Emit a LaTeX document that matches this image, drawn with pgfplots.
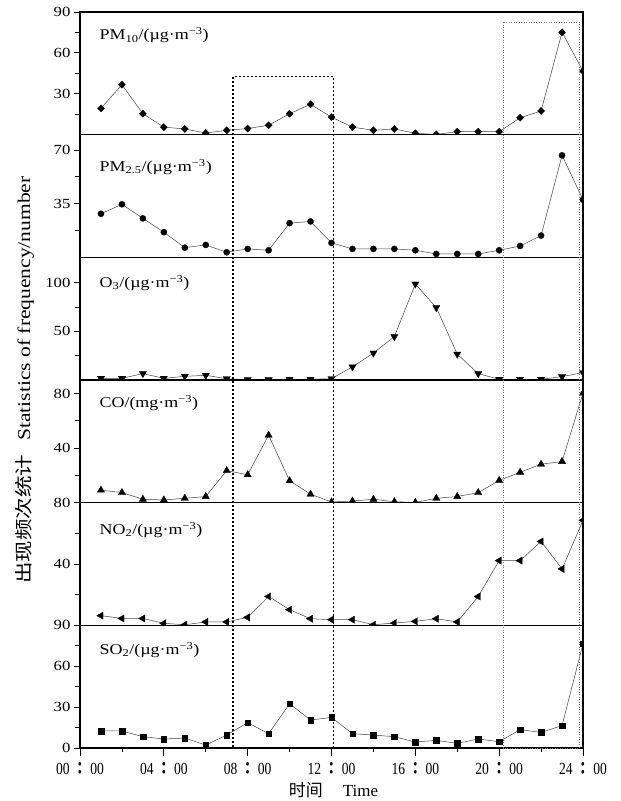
\documentclass[border=0pt]{standalone}
\usepackage{fontspec}
\setmainfont{Liberation Serif}
\newfontfamily\wide{Liberation Serif}[FakeStretch=1.2]
\newfontfamily\narrow{Liberation Serif}[FakeStretch=0.8]
\newfontfamily\cjkwide{Noto Sans CJK SC}[FakeStretch=1.2]
\newfontfamily\cjkcolon{Noto Sans CJK JP}[FakeStretch=0.8]
\newfontfamily\cjk{Noto Sans CJK SC}
\usepackage{pgfplots}
\pgfplotsset{compat=1.18}
\usepgfplotslibrary{groupplots}
\usetikzlibrary{calc}

% hour tick label like 04：00
\newcommand{\hh}[1]{{\narrow #1}\hspace{3.5bp}{\cjkcolon\bfseries ：}\hspace{3.5bp}{\narrow 00}}
\newcommand{\lab}[1]{\node[anchor=base west, font=\wide\fontsize{15}{17}\selectfont] at #1}

\tikzset{mk/.style={fill=black, draw=black, line width=0.3bp, solid}}
\pgfplotsset{ser/.style={black!75, line width=0.5bp}}

\begin{document}
\begin{tikzpicture}
\begin{groupplot}[
  group style={group size=1 by 6, vertical sep=0pt},
  width=503bp, height=122.67bp, scale only axis,
  xmin=0, xmax=24, ymin=0,
  xtick=\empty,
  clip marker paths=true,
  axis line style={line width=1.1bp},
  tick style={black, line width=0.8bp},
  ytick pos=left, tick align=outside,
  major tick length=6bp, minor tick length=5bp,
  /pgf/number format/assume math mode=true,
  yticklabel style={font=\wide\fontsize{14}{16}\selectfont},
]
% PM10
\nextgroupplot[ymax=90, ytick={30,60,90}, minor ytick={15,45,75}]
\addplot[ser, mark=diamond*, mark size=3.6bp, mark options={mk, xscale=1.3}] coordinates {
 (1,19.3)(2,36.7)(3,15.4)(4,5.5)(5,4.2)(6,1.2)(7,3.2)(8,4.5)(9,6.9)(10,15.4)(11,22.3)(12,12.9)
 (13,5.5)(14,3.2)(15,4.2)(16,1.0)(17,0.2)(18,2.2)(19,2.2)(20,2.2)(21,12.4)(22,17.4)(23,75.1)(24,46.6)};
\lab{(rel axis cs:0.032,0.772)} {PM\textsubscript{10}/(µg·m\textsuperscript{−3})};
\coordinate (tr) at (rel axis cs:1,1);
\coordinate (r1a) at (axis cs:7.31,42.6);
\coordinate (r2a) at (axis cs:20.2,82.6);
% PM2.5
\nextgroupplot[ymax=80, ytick={35,70}, minor ytick={17.5,52.5}]
\addplot[ser, mark=*, mark size=3.1bp, mark options={mk}] coordinates {
 (1,28.4)(2,34.6)(3,25.4)(4,16.4)(5,6.3)(6,8.1)(7,3.3)(8,5.5)(9,4.6)(10,22.3)(11,23.4)(12,9.4)
 (13,5.5)(14,5.5)(15,5.5)(16,4.6)(17,2.2)(18,2.2)(19,2.2)(20,4.6)(21,7.4)(22,14.2)(23,66.5)(24,37.6)};
\lab{(rel axis cs:0.032,0.698)} {PM\textsubscript{2.5}/(µg·m\textsuperscript{−3})};
% O3
\nextgroupplot[ymax=126, ytick={50,100}, minor ytick={25,75}]
\addplot[ser, mark=triangle*, mark size=4.2bp, mark options={mk, rotate=180}] coordinates {
 (1,1.7)(2,1.7)(3,6.6)(4,1.7)(5,3.8)(6,4.8)(7,1.4)(8,0.3)(9,0.3)(10,0.7)(11,0.7)(12,1.4)
 (13,13.5)(14,27.7)(15,44.6)(16,98.6)(17,74.4)(18,26.6)(19,6.6)(20,0.7)(21,0.7)(22,0.7)(23,3.5)(24,7.6)};
\lab{(rel axis cs:0.032,0.755)} {O\textsubscript{3}/(µg·m\textsuperscript{−3})};
% CO
\nextgroupplot[ymax=90, ytick={40,80}, minor ytick={20,60}]
\addplot[ser, mark=triangle*, mark size=4.2bp, mark options={mk}] coordinates {
 (1,9.2)(2,7.4)(3,2.5)(4,2.0)(5,3.2)(6,4.5)(7,23.5)(8,20.5)(9,49.5)(10,16.1)(11,6.2)(12,0.5)
 (13,1.2)(14,2.5)(15,0.7)(16,0.2)(17,3.2)(18,4.5)(19,7.4)(20,16.3)(21,22.3)(22,28.2)(23,30.2)(24,80.4)};
\lab{(rel axis cs:0.032,0.772)} {CO/(mg·m\textsuperscript{−3})};
% NO2
\nextgroupplot[ymax=80, ytick={40,80}, minor ytick={20,60}]
\addplot[ser, mark=triangle*, mark size=4.2bp, mark options={mk, rotate=90}] coordinates {
 (1,6.3)(2,4.5)(3,4.5)(4,1.3)(5,0.4)(6,2.2)(7,2.2)(8,5.2)(9,18.8)(10,10.2)(11,4.3)(12,3.7)
 (13,3.7)(14,0.4)(15,1.5)(16,2.6)(17,4.3)(18,2.2)(19,18.8)(20,42.2)(21,42.2)(22,54.7)(23,36.8)(24,68.5)};
\lab{(rel axis cs:0.032,0.739)} {NO\textsubscript{2}/(µg·m\textsuperscript{−3})};
% SO2
\nextgroupplot[ymax=90, ytick={0,30,60,90}, minor ytick={15,45,75},
  xtick={0,4,...,24}, minor xtick={2,6,...,22}, xtick pos=bottom,
  major x tick style={/pgfplots/major tick length=8bp},
  minor x tick style={/pgfplots/minor tick length=4bp},
  xticklabels={\hh{00},\hh{04},\hh{08},\hh{12},\hh{16},\hh{20},\hh{24}},
  xticklabel style={font=\fontsize{17}{19}\selectfont, yshift=-5bp}]
\addplot[ser, mark=square*, mark size=2.8bp, mark options={mk}] coordinates {
 (1,12.5)(2,12.5)(3,8.3)(4,6.6)(5,7.3)(6,2.2)(7,9.5)(8,18.6)(9,10.5)(10,32.5)(11,20.5)(12,22.5)
 (13,10.5)(14,9.5)(15,8.3)(16,4.4)(17,5.6)(18,3.4)(19,6.6)(20,4.6)(21,13.5)(22,11.5)(23,16.4)(24,76.5)};
\lab{(rel axis cs:0.032,0.764)} {SO\textsubscript{2}/(µg·m\textsuperscript{−3})};
\coordinate (bl) at (rel axis cs:0,0);
\coordinate (r1b) at (axis cs:12.1,0);
\coordinate (r2b) at (axis cs:23.83,0);
\end{groupplot}

% highlighted periods
\draw[black, line width=1.5bp, dash pattern=on 2bp off 2bp] (r1a) rectangle (r1b);
\draw[black!55, line width=0.6bp, dash pattern=on 1bp off 1.5bp] (r2a) rectangle (r2b);

% axis titles
\node[rotate=90, anchor=center] at ($(bl)!0.5!(bl|-tr)+(-55.5bp,0)$)
  {{\cjkwide\fontsize{18}{20}\selectfont 出现频次统计}\hspace{14bp}{\wide\fontsize{18}{20}\selectfont Statistics of frequency/number}};
\node[anchor=center] at ($(bl)!0.5!(bl-|tr)+(2bp,-42bp)$)
  {{\cjk\fontsize{17}{19}\selectfont 时间}\hspace{20bp}{\fontsize{17}{19}\selectfont Time}};

\pgfresetboundingbox
\path ($(bl)+(-80bp,-53bp)$) rectangle ($(tr)+(38bp,12bp)$);
\end{tikzpicture}
\end{document}
